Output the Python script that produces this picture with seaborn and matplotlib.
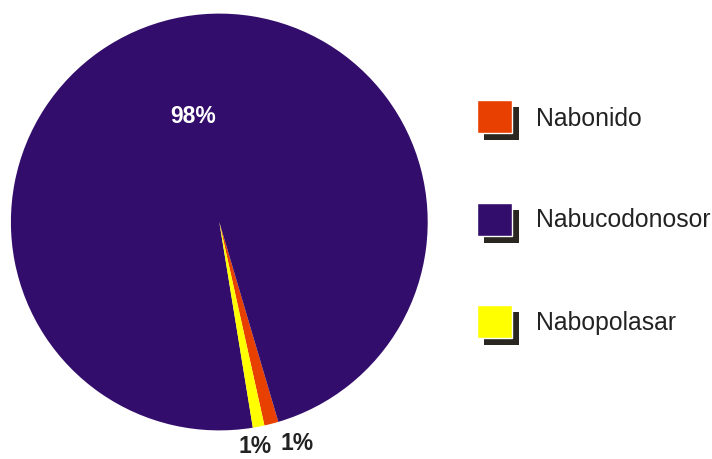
import numpy as np
import matplotlib
matplotlib.use("Agg")
import matplotlib.pyplot as plt
from matplotlib.patches import Rectangle
import seaborn as sns

# Reign share by king
kings = ["Nabonido", "Nabucodonosor", "Nabopolasar"]
shares = [1.1, 98.0, 0.9]
colors = ["#E84000", "#330D6B", "#FFFF00"]

sns.set_theme(style="white")
plt.rcParams["font.family"] = ["Liberation Sans", "DejaVu Sans"]

W, H = 712, 459
fig = plt.figure(figsize=(W / 100, H / 100), dpi=100)
fig.patch.set_facecolor("white")

# Pie axes: centre (219.3, 222) px, radius 208.4 px
cx, cy, r = 219.3, 222.0, 208.4
ax = fig.add_axes([(cx - r) / W, (H - cy - r) / H, 2 * r / W, 2 * r / H])

total = sum(shares)
wedges, _ = ax.pie(shares, colors=colors, startangle=-77.5,
                   counterclock=True, radius=1.0,
                   wedgeprops=dict(linewidth=0))
ax.set_xlim(-1, 1)
ax.set_ylim(-1, 1)
ax.set_aspect("equal")
ax.axis("off")

# Percentage labels
label_offsets = {"Nabonido": (4.9, 1.125), "Nabopolasar": (-1.8, 1.09)}
for w, name, val in zip(wedges, kings, shares):
    pct = f"{round(100 * val / total):.0f}%"
    mid = np.deg2rad((w.theta1 + w.theta2) / 2)
    if name in label_offsets:
        dang, dist = label_offsets[name]
        a = mid + np.deg2rad(dang)
        ax.text(dist * np.cos(a), dist * np.sin(a), pct, ha="center",
                va="center", fontsize=16.5, fontweight="bold", color="#222222",
                clip_on=False)
    else:
        a = mid + np.deg2rad(1.0)
        ax.text(0.52 * np.cos(a), 0.52 * np.sin(a), pct, ha="center",
                va="center", fontsize=16.5, fontweight="bold", color="white")

# Legend with drop-shadowed swatches
swatch_top = [100, 203, 305]
text_base = [126, 227, 330]
for name, col, y0, yb in zip(kings, colors, swatch_top, text_base):
    x0, sw, sh = 477, 35, 33
    fig.patches.append(Rectangle(((x0 + 7) / W, (H - (y0 + 7) - sh) / H),
                                 sw / W, sh / H, transform=fig.transFigure,
                                 facecolor="#2A2620", edgecolor="none"))
    fig.patches.append(Rectangle((x0 / W, (H - y0 - sh) / H), sw / W, sh / H,
                                 transform=fig.transFigure, facecolor=col,
                                 edgecolor="white", linewidth=1.0))
    fig.text(536 / W, (H - yb) / H, name, ha="left", va="baseline",
             fontsize=17.8, color="#222222")

fig.savefig("out.png", dpi=100, facecolor="white")
